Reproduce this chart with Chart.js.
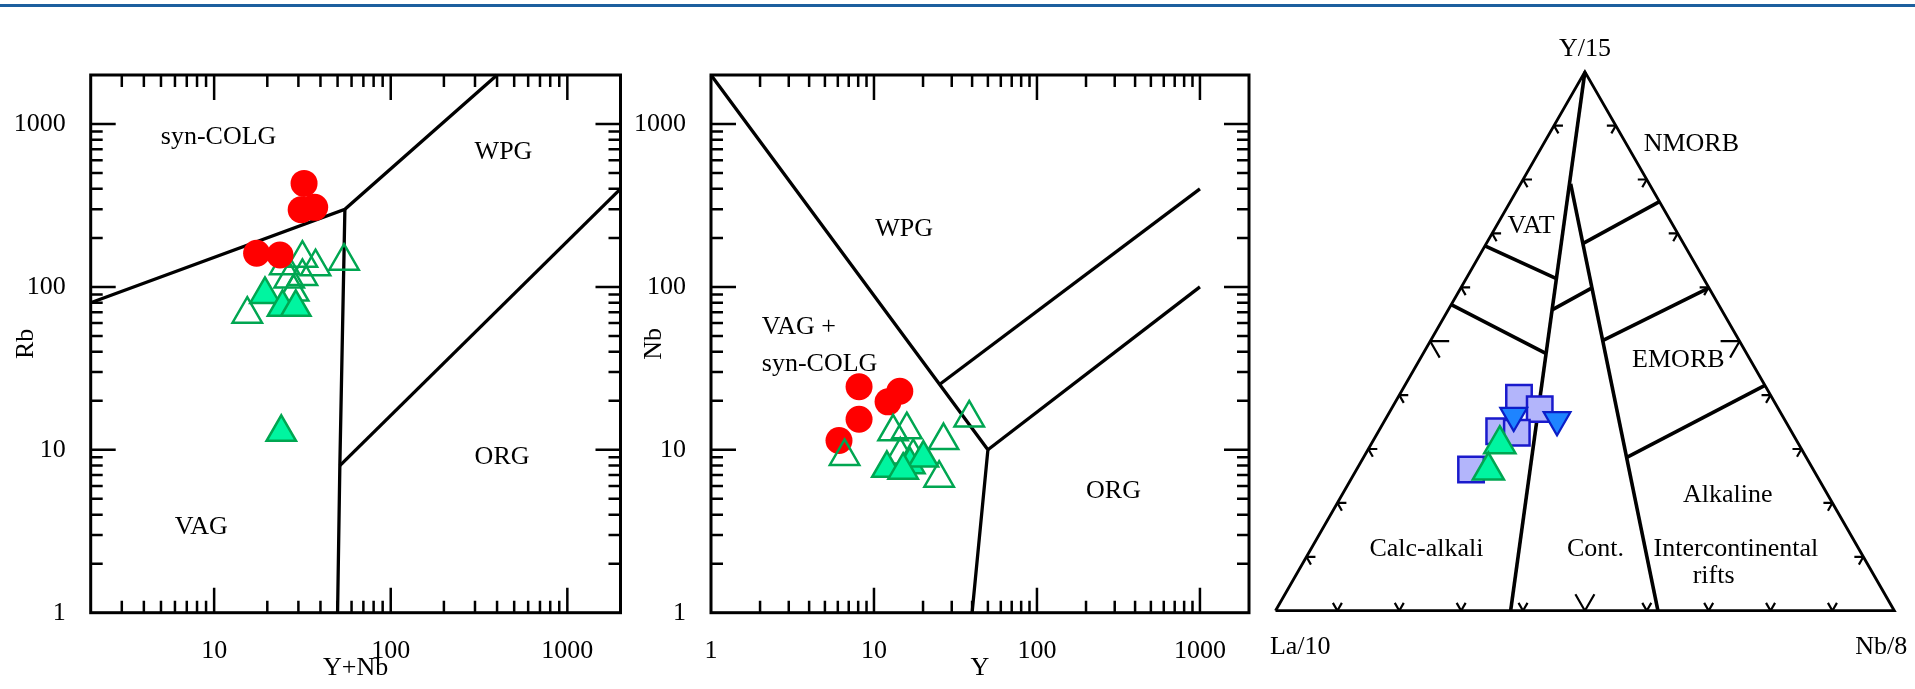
<!DOCTYPE html>
<html>
<head>
<meta charset="utf-8">
<script src="https://cdn.jsdelivr.net/npm/chart.js@4/dist/chart.umd.min.js"></script>
<style>
  html, body { margin: 0; padding: 0; background: #fff; }
  body { width: 1915px; height: 689px; position: relative; overflow: hidden; }
  .rule { position: absolute; left: 0; top: 4px; width: 1915px; height: 3px; background: #1d5f9e; }
  canvas { position: absolute; top: 0; }
</style>
</head>
<body>
<div class="rule"></div>
<canvas id="rbChart" width="640" height="689" style="left:0"></canvas>
<canvas id="nbChart" width="650" height="689" style="left:630px"></canvas>
<canvas id="ternChart" width="660" height="689" style="left:1255px"></canvas>
<script>
// ---- Rb vs (Y+Nb) ----
const rbCircleYNb = [32.3, 31.1, 37.1, 17.4, 23.6];
const rbCircleRb  = [432, 298, 308, 161, 157];
const rbOpenYNb = [25.1, 31.6, 37.5, 26.6, 31.6, 28.2, 54.4, 15.4];
const rbOpenRb  = [135, 150, 133, 112, 116, 93, 144, 68];
const rbFillYNb = [19.4, 24.4, 29.0, 24.0];
const rbFillRb  = [90, 75, 75, 12.8];
const rbBounds = [
  [[2, 80], [55, 300], [400, 2000]],
  [[55, 300], [51.5, 8], [50, 1]],
  [[51.5, 8], [2000, 400]]
];
const rbZoneText = ['syn-COLG', 'WPG', 'ORG', 'VAG'];
const rbZoneX = [10.6, 435, 427, 8.45];
const rbZoneY = [832, 670, 9, 3.37];

// ---- Nb vs Y ----
const nbCircleY  = [8.1, 8.1, 6.1, 12.2, 14.4];
const nbCircleNb = [24.4, 15.4, 11.4, 19.7, 22.9];
const nbOpenY  = [6.6, 13.1, 15.9, 26.7, 38.4, 14.5, 25.1, 17.4];
const nbOpenNb = [9.1, 12.9, 13.3, 11.4, 15.7, 9.3, 6.7, 9.1];
const nbFillY  = [12.0, 16.6, 20.1, 15.1];
const nbFillNb = [7.7, 8.1, 8.9, 7.5];
const nbBounds = [
  [[1, 2000], [50, 10], [40, 1]],
  [[50, 10], [1000, 100]],
  [[25, 25], [1000, 400]]
];
const nbZoneText = ['WPG', 'VAG +', 'syn-COLG', 'ORG'];
const nbZoneX = [15.3, 2.05, 2.05, 295];
const nbZoneY = [226, 56.7, 33.4, 5.6];
const nbZoneAlign = ['center', 'left', 'left', 'center'];

// ---- La/10 - Nb/8 - Y/15 ternary (fractions La, Nb, Y) ----
const sqLa = [0.409, 0.386, 0.472, 0.445, 0.553];
const sqNb = [0.196, 0.240, 0.195, 0.225, 0.185];
const sqY  = [0.395, 0.374, 0.333, 0.330, 0.262];
const invLa = [0.434, 0.368];
const invNb = [0.204, 0.278];
const invY  = [0.362, 0.354];
const grLa = [0.483, 0.526];
const grNb = [0.208, 0.214];
const grY  = [0.309, 0.260];
const ternBounds = [
  [[1, 0, 0], [0, 1, 0], [0, 0, 1], [1, 0, 0]],
  [[0, 0, 1], [0.62, 0.38, 0]],
  [[0.127, 0.081, 0.792], [0.382, 0.618, 0]],
  [[0.323, 0, 0.677], [0.238, 0.146, 0.616]],
  [[0.432, 0, 0.568], [0.324, 0.199, 0.477]],
  [[0.274, 0.168, 0.558], [0.189, 0.212, 0.599]],
  [[0.163, 0.156, 0.681], [0, 0.241, 0.759]],
  [[0.221, 0.278, 0.501], [0, 0.401, 0.599]],
  [[0.291, 0.425, 0.284], [0, 0.582, 0.418]]
];
const edgeTicks = [0.1, 0.2, 0.3, 0.4, 0.5, 0.6, 0.7, 0.8, 0.9];
const ternText = ['NMORB', 'VAT', 'EMORB', 'Alkaline', 'Calc-alkali', 'Cont.', 'Intercontinental', 'rifts', 'La/10', 'Nb/8', 'Y/15'];
const ternTextX = [0.672, 0.413, 0.651, 0.731, 0.244, 0.517, 0.744, 0.708, 0.040, 0.979, 0.5];
const ternTextY = [0.749, 0.618, 0.402, 0.186, 0.099, 0.099, 0.099, 0.055, -0.058, -0.058, 0.903];

Chart.defaults.font.family = 'Liberation Serif';
Chart.defaults.color = '#000';
const serif = { family: 'Liberation Serif', size: 26 };
const H = Math.sqrt(3) / 2;

const pts = (xs, ys) => xs.map((v, i) => ({ x: v, y: ys[i] }));
const tern = (la, nb, yv) => {
  const s = la + nb + yv;
  return { x: (nb + yv / 2) / s, y: yv * H / s };
};

const redDots = { pointStyle: 'circle', pointRadius: 13.5, pointBackgroundColor: '#ff0000', pointBorderColor: '#ff0000', pointBorderWidth: 0 };
const openTri = { pointStyle: 'triangle', pointRadius: 17, pointBackgroundColor: 'rgba(255,255,255,0)', pointBorderColor: '#00a651', pointBorderWidth: 2.5 };
const fillTri = { pointStyle: 'triangle', pointRadius: 17, pointBackgroundColor: '#00f5a0', pointBorderColor: '#00a651', pointBorderWidth: 2.5 };

function lineSet(points, width, order) {
  return { data: points, showLine: true, pointRadius: 0, borderColor: '#000', borderWidth: width,
           borderJoinStyle: 'miter', tension: 0, fill: false, clip: false, order: order };
}

function isDecade(v) {
  const e = Math.log10(v);
  return Math.abs(e - Math.round(e)) < 1e-6;
}

function logMarks(min, max) {
  const out = [];
  for (let e = Math.floor(Math.log10(min)); e <= Math.ceil(Math.log10(max)); e++) {
    for (let k = 1; k <= 9; k++) {
      const v = k * Math.pow(10, e);
      if (v > min * 1.0001 && v < max * 0.9999) out.push([v, k === 1]);
    }
  }
  return out;
}

// frame with inward log ticks on all four sides
const logFrame = {
  id: 'logFrame',
  afterDatasetsDraw(chart) {
    const { ctx, chartArea: a, scales: { x, y } } = chart;
    ctx.save();
    ctx.strokeStyle = '#000';
    ctx.lineWidth = 2.5;
    ctx.beginPath();
    logMarks(x.min, x.max).forEach(([v, major]) => {
      const p = x.getPixelForValue(v), len = major ? 25 : 12;
      ctx.moveTo(p, a.bottom); ctx.lineTo(p, a.bottom - len);
      ctx.moveTo(p, a.top); ctx.lineTo(p, a.top + len);
    });
    logMarks(y.min, y.max).forEach(([v, major]) => {
      const p = y.getPixelForValue(v), len = major ? 25 : 12;
      ctx.moveTo(a.left, p); ctx.lineTo(a.left + len, p);
      ctx.moveTo(a.right, p); ctx.lineTo(a.right - len, p);
    });
    ctx.stroke();
    ctx.lineWidth = 3;
    ctx.strokeRect(a.left, a.top, a.width, a.height);
    ctx.restore();
  }
};

function zoneLabels(texts, xs, ys, aligns) {
  return {
    id: 'zones',
    beforeDatasetsDraw(chart) {
      const { ctx, scales: { x, y } } = chart;
      ctx.save();
      ctx.font = '26px "Liberation Serif"';
      ctx.fillStyle = '#000';
      ctx.textBaseline = 'middle';
      texts.forEach((t, i) => {
        ctx.textAlign = aligns ? aligns[i] : 'center';
        ctx.fillText(t, x.getPixelForValue(xs[i]), y.getPixelForValue(ys[i]));
      });
      ctx.restore();
    }
  };
}

function logAxis(min, max, pos, title, titlePad, fit) {
  return {
    type: 'logarithmic', min: min, max: max, position: pos,
    grid: { display: false }, border: { display: false },
    ticks: { autoSkip: false, maxRotation: 0, padding: pos === 'left' ? 17 : 15, font: serif,
             callback: v => isDecade(v) ? String(v) : '' },
    title: { display: true, text: title, font: serif, padding: titlePad },
    afterFit: fit
  };
}

const baseOpts = {
  responsive: false, animation: false, events: [], devicePixelRatio: 1,
  plugins: { legend: { display: false }, tooltip: { enabled: false } }
};

new Chart(document.getElementById('rbChart'), {
  type: 'scatter',
  data: {
    datasets: [
      { data: pts(rbCircleYNb, rbCircleRb), order: 0, ...redDots },
      { data: pts(rbFillYNb, rbFillRb), order: 1, ...fillTri },
      { data: pts(rbOpenYNb, rbOpenRb), order: 2, ...openTri },
      ...rbBounds.map(b => lineSet(b.map(p => ({ x: p[0], y: p[1] })), 3.3, 3))
    ]
  },
  options: {
    ...baseOpts,
    layout: { padding: { top: 75, right: 11.7, left: 0, bottom: 0 } },
    scales: {
      x: logAxis(2, 2000, 'bottom', 'Y+Nb', { bottom: 5 }, s => { s.height = 76.3; }),
      y: logAxis(1, 2000, 'left', 'Rb', { top: 11 }, s => { s.width = 90.7; })
    }
  },
  plugins: [logFrame, zoneLabels(rbZoneText, rbZoneX, rbZoneY)]
});

new Chart(document.getElementById('nbChart'), {
  type: 'scatter',
  data: {
    datasets: [
      { data: pts(nbFillY, nbFillNb), order: 0, ...fillTri },
      { data: pts(nbOpenY, nbOpenNb), order: 1, ...openTri },
      { data: pts(nbCircleY, nbCircleNb), order: 2, ...redDots },
      ...nbBounds.map(b => lineSet(b.map(p => ({ x: p[0], y: p[1] })), 3.3, 3))
    ]
  },
  options: {
    ...baseOpts,
    layout: { padding: { top: 75, right: 31, left: 0, bottom: 0 } },
    scales: {
      x: logAxis(1, 2000, 'bottom', 'Y', { bottom: 5 }, s => { s.height = 76.3; }),
      y: logAxis(1, 2000, 'left', 'Nb', { top: 8.4 }, s => { s.width = 81; })
    }
  },
  plugins: [logFrame, zoneLabels(nbZoneText, nbZoneX, nbZoneY, nbZoneAlign)]
});

// ternary: edge ticks and labels
const ternDeco = {
  id: 'ternDeco',
  afterDatasetsDraw(chart) {
    const { ctx, scales: { x, y } } = chart;
    const px = p => [x.getPixelForValue(p.x), y.getPixelForValue(p.y)];
    const arms = (p, dirs, len) => {
      const [cx, cy] = px(p);
      dirs.forEach(([dx, dy]) => { ctx.moveTo(cx, cy); ctx.lineTo(cx + dx * len, cy + dy * len); });
    };
    ctx.save();
    ctx.strokeStyle = '#000';
    ctx.lineWidth = 2.2;
    ctx.beginPath();
    edgeTicks.forEach(t => {
      const len = Math.abs(t - 0.5) < 1e-6 ? 19 : 9;
      arms(tern(1 - t, 0, t), [[1, 0], [0.5, H]], len);
      arms(tern(0, 1 - t, t), [[-1, 0], [-0.5, H]], len);
      arms(tern(1 - t, t, 0), [[-0.5, -H], [0.5, -H]], len);
    });
    ctx.stroke();
    ctx.font = '26px "Liberation Serif"';
    ctx.fillStyle = '#000';
    ctx.textAlign = 'center';
    ctx.textBaseline = 'middle';
    ternText.forEach((t, i) => {
      const [cx, cy] = px({ x: ternTextX[i], y: ternTextY[i] });
      ctx.fillText(t, cx, cy);
    });
    ctx.restore();
  }
};

new Chart(document.getElementById('ternChart'), {
  type: 'scatter',
  data: {
    datasets: [
      { data: grLa.map((v, i) => tern(v, grNb[i], grY[i])), order: 0, clip: false, ...fillTri, pointRadius: 18 },
      { data: invLa.map((v, i) => tern(v, invNb[i], invY[i])), order: 1, clip: false,
        pointStyle: 'triangle', rotation: 180, pointRadius: 15.5, pointBackgroundColor: '#1e84ff',
        pointBorderColor: '#0b1ec8', pointBorderWidth: 2.2 },
      { data: sqLa.map((v, i) => tern(v, sqNb[i], sqY[i])), order: 2, clip: false,
        pointStyle: 'rect', pointRadius: 18, pointBackgroundColor: '#b3b5fb',
        pointBorderColor: '#1a1acc', pointBorderWidth: 2.5 },
      ...ternBounds.map((b, i) => lineSet(b.map(p => tern(p[0], p[1], p[2])), i === 0 ? 2.8 : 3.6, 3))
    ]
  },
  options: {
    ...baseOpts,
    layout: { padding: { left: 16.7, right: 20.7, top: 71.7, bottom: 78.3 } },
    scales: {
      x: { type: 'linear', min: 0, max: 1, display: false },
      y: { type: 'linear', min: 0, max: H, display: false }
    }
  },
  plugins: [ternDeco]
});
</script>
</body>
</html>
